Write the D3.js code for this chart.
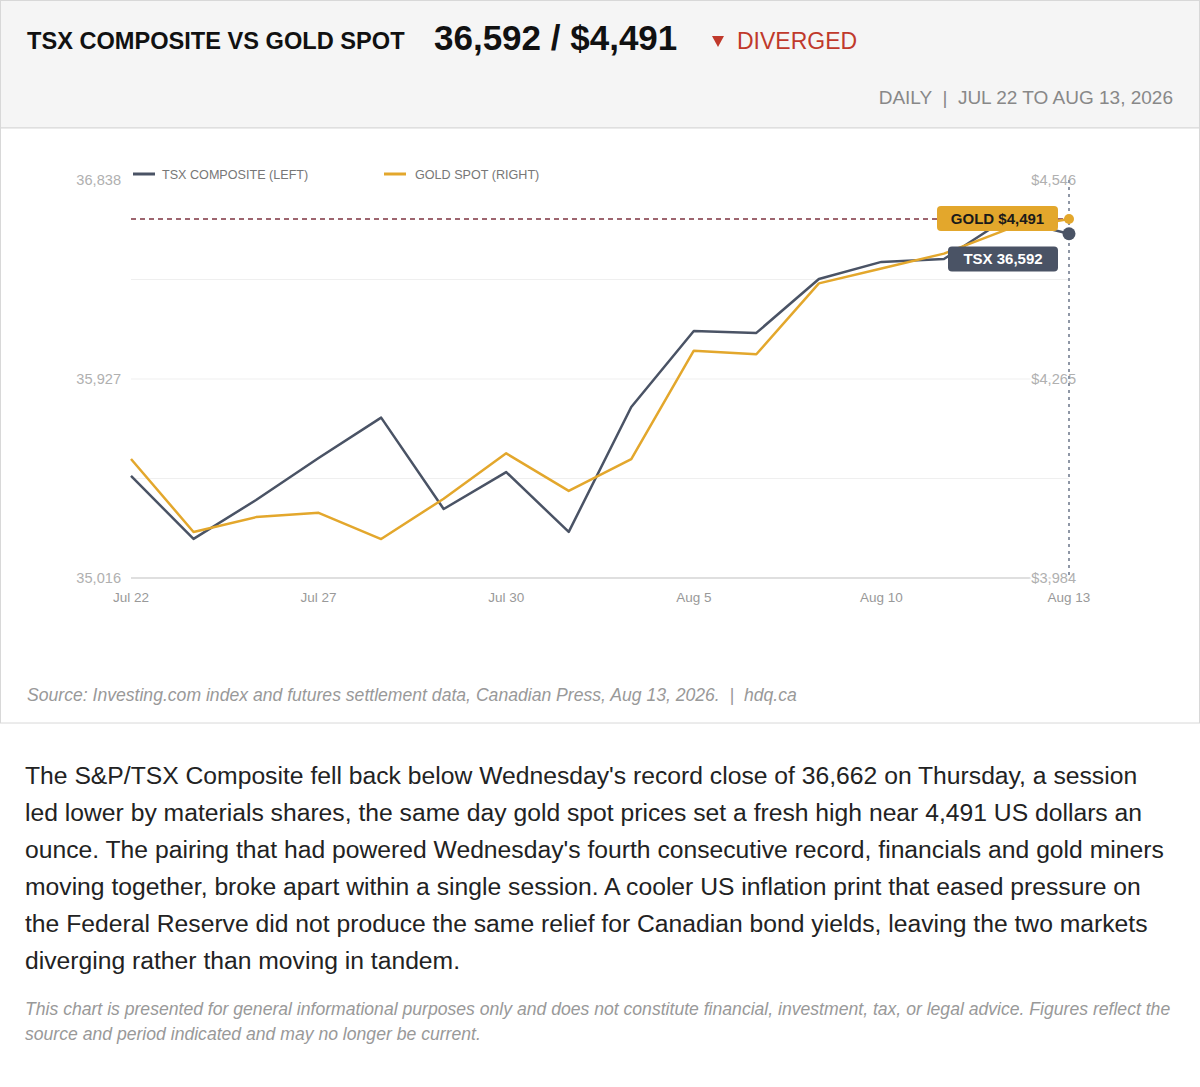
<!DOCTYPE html>
<html>
<head>
<meta charset="utf-8">
<script src="https://cdn.jsdelivr.net/npm/d3@7"></script>
<style type="text/css">
body {
    margin: 0;
    background: #fff;
    font-family: "Liberation Sans", Arial, sans-serif;
}
#chart svg { display: block; }
.story {
    padding: 0 25px;
    margin-top: 33px;
    font-size: 24.7px;
    line-height: 37px;
    color: #222;
}
.note {
    padding: 0 25px;
    margin-top: 18px;
    font-size: 17.6px;
    line-height: 25px;
    font-style: italic;
    color: #999;
}
.grid { stroke: #efefef; stroke-width: 1; }
.base { stroke: #d4d4d4; stroke-width: 1.5; }
.tick-l, .tick-r { font-size: 14.6px; fill: #b0b0b0; paint-order: stroke; stroke: #fff; stroke-width: 4px; }
.tick-x { font-size: 13.5px; fill: #999; }
.legend { font-size: 12.6px; fill: #777; }
.line { fill: none; stroke-width: 2.5; stroke-linejoin: round; }
</style>
</head>
<body>

<div id="chart"></div>

<div class="story">The S&amp;P/TSX Composite fell back below Wednesday's record close of 36,662 on Thursday, a session led lower by materials shares, the same day gold spot prices set a fresh high near 4,491 US dollars an ounce. The pairing that had powered Wednesday's fourth consecutive record, financials and gold miners moving together, broke apart within a single session. A cooler US inflation print that eased pressure on the Federal Reserve did not produce the same relief for Canadian bond yields, leaving the two markets diverging rather than moving in tandem.</div>

<div class="note">This chart is presented for general informational purposes only and does not constitute financial, investment, tax, or legal advice. Figures reflect the source and period indicated and may no longer be current.</div>

<script>

// trading sessions (Aug 3 was the Civic Holiday)
var dates = ["Jul 22","Jul 23","Jul 24","Jul 27","Jul 28","Jul 29","Jul 30","Jul 31",
             "Aug 4","Aug 5","Aug 6","Aug 7","Aug 10","Aug 11","Aug 12","Aug 13"];
var xTickLabels = ["Jul 22","Jul 27","Jul 30","Aug 5","Aug 10","Aug 13"];

// closes
var tsx  = [35483, 35195, 35373, 35565, 35750, 35332, 35501, 35227,
            35799, 36147, 36138, 36385, 36463, 36476, 36662, 36592];
var gold = [4152, 4049, 4070, 4076, 4039, 4096, 4160, 4107,
            4152, 4305, 4300, 4400, 4421, 4442, 4476, 4491];

var leftTicks  = [35016, 35927, 36838];
var rightTicks = [3984, 4265, 4546];

var tsxColor = "#4a5365", goldColor = "#e3a72c";

var W = 1200, H = 724;
var svg = d3.select("#chart").append("svg")
    .attr("width", W).attr("height", H)
    .style("font-family", "'Liberation Sans', Arial, sans-serif");

// header panel
svg.append("rect").attr("x", 0.5).attr("y", 0.5).attr("width", W - 1).attr("height", 127.5)
    .attr("fill", "#f5f5f5").attr("stroke", "#d8d8d8");
svg.append("text").attr("x", 27).attr("y", 49)
    .attr("font-size", 23.6).attr("font-weight", "bold").attr("fill", "#111")
    .text("TSX COMPOSITE VS GOLD SPOT");
svg.append("text").attr("x", 434).attr("y", 50)
    .attr("font-size", 35).attr("font-weight", "bold").attr("fill", "#111")
    .text(d3.format(",")(tsx[tsx.length - 1]) + " / $" + d3.format(",")(gold[gold.length - 1]));
svg.append("path").attr("d", "M712,36 L724,36 L718,47 Z").attr("fill", "#c0392b");
svg.append("text").attr("x", 737).attr("y", 49)
    .attr("font-size", 23).attr("fill", "#c0392b")
    .text("DIVERGED");
svg.append("text").attr("x", 1173).attr("y", 104).attr("text-anchor", "end")
    .attr("font-size", 19).attr("fill", "#888")
    .attr("xml:space", "preserve")
    .text("DAILY  |  JUL 22 TO AUG 13, 2026");

// chart panel
svg.append("rect").attr("x", 0.5).attr("y", 128).attr("width", W - 1).attr("height", 595)
    .attr("fill", "#fff").attr("stroke", "#d8d8d8");

var x = d3.scalePoint().domain(dates).range([131, 1069]);
var yL = d3.scaleLinear().domain([leftTicks[0], leftTicks[2]]).range([578, 180]);
var yR = d3.scaleLinear().domain([rightTicks[0], rightTicks[2]]).range([578, 180]);

// gridlines at quarter steps of the left domain
var step = (leftTicks[2] - leftTicks[0]) / 4;
var gridVals = [1, 2, 3].map(function(i) { return leftTicks[0] + i * step; });
svg.selectAll("line.grid").data(gridVals).enter().append("line")
    .attr("class", "grid")
    .attr("x1", x.range()[0]).attr("x2", x.range()[1])
    .attr("y1", function(d) { return yL(d); }).attr("y2", function(d) { return yL(d); });
svg.append("line").attr("class", "base")
    .attr("x1", x.range()[0]).attr("x2", x.range()[1])
    .attr("y1", yL(leftTicks[0])).attr("y2", yL(leftTicks[0]));

// axes labels
svg.selectAll("text.tick-l").data(leftTicks).enter().append("text")
    .attr("class", "tick-l").attr("x", 121).attr("y", function(d) { return yL(d); })
    .attr("dy", "0.35em").attr("text-anchor", "end")
    .text(d3.format(","));
svg.selectAll("text.tick-r").data(rightTicks).enter().append("text")
    .attr("class", "tick-r").attr("x", 1076).attr("y", function(d) { return yR(d); })
    .attr("dy", "0.35em").attr("text-anchor", "end")
    .text(function(d) { return "$" + d3.format(",")(d); });
svg.selectAll("text.tick-x").data(xTickLabels).enter().append("text")
    .attr("class", "tick-x").attr("x", function(d) { return x(d); }).attr("y", 602)
    .attr("text-anchor", "middle")
    .text(function(d) { return d; });

// legend
var legend = [{ name: "TSX COMPOSITE (LEFT)", color: tsxColor, x: 133, tx: 162 },
              { name: "GOLD SPOT (RIGHT)", color: goldColor, x: 384, tx: 415 }];
legend.forEach(function(l) {
    svg.append("line").attr("x1", l.x).attr("x2", l.x + 22).attr("y1", 174).attr("y2", 174)
        .attr("stroke", l.color).attr("stroke-width", 3);
    svg.append("text").attr("class", "legend").attr("x", l.tx).attr("y", 178.5).text(l.name);
});

// gold reference line
var last = dates.length - 1;
svg.append("line")
    .attr("x1", x.range()[0]).attr("x2", x.range()[1])
    .attr("y1", yR(gold[last])).attr("y2", yR(gold[last]))
    .attr("stroke", "#7d3340").attr("stroke-width", 1.5).attr("stroke-dasharray", "5,4");

// series
svg.append("path").datum(tsx).attr("class", "line").attr("stroke", tsxColor)
    .attr("d", d3.line().x(function(d, i) { return x(dates[i]); }).y(function(d) { return yL(d); }));
svg.append("path").datum(gold).attr("class", "line").attr("stroke", goldColor)
    .attr("d", d3.line().x(function(d, i) { return x(dates[i]); }).y(function(d) { return yR(d); }));

// latest session marker
svg.append("line")
    .attr("x1", x(dates[last])).attr("x2", x(dates[last]))
    .attr("y1", 180).attr("y2", 578)
    .attr("stroke", "#8f97a6").attr("stroke-width", 2).attr("stroke-dasharray", "3,4");

svg.append("circle").attr("cx", x(dates[last])).attr("cy", yR(gold[last])).attr("r", 5)
    .attr("fill", goldColor);
svg.append("circle").attr("cx", x(dates[last])).attr("cy", yL(tsx[last])).attr("r", 6.5)
    .attr("fill", tsxColor);

// callouts
function callout(label, x1, x2, cy, bg, fg) {
    svg.append("rect").attr("x", x1).attr("y", cy - 12.5).attr("width", x2 - x1).attr("height", 25)
        .attr("rx", 4).attr("fill", bg);
    svg.append("text").attr("x", (x1 + x2) / 2).attr("y", cy).attr("dy", "0.35em")
        .attr("text-anchor", "middle").attr("font-size", 15).attr("font-weight", "bold")
        .attr("fill", fg).text(label);
}
callout("GOLD $" + d3.format(",")(gold[last]), 937, 1058, 218.5, goldColor, "#1a1a1a");
callout("TSX " + d3.format(",")(tsx[last]), 948, 1058, 259, tsxColor, "#fff");

// source
svg.append("text").attr("x", 27).attr("y", 701)
    .attr("font-size", 17.6).attr("font-style", "italic").attr("fill", "#999")
    .attr("xml:space", "preserve")
    .text("Source: Investing.com index and futures settlement data, Canadian Press, Aug 13, 2026.  |  hdq.ca");

</script>
</body>
</html>
